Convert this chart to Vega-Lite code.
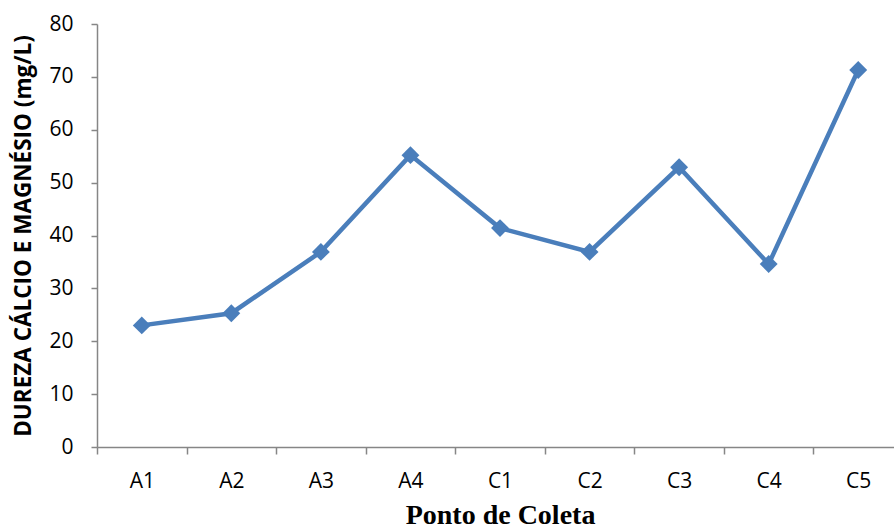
{
  "$schema": "https://vega.github.io/schema/vega-lite/v6.json",
  "autosize": "none",
  "width": 806,
  "height": 423,
  "padding": {"left": 97, "top": 24, "right": 0, "bottom": 85},
  "background": "white",
  "config": {"view": {"stroke": null}},
  "data": {"values": [
    {"ponto": "A1", "valor": 23.0},
    {"ponto": "A2", "valor": 25.3},
    {"ponto": "A3", "valor": 36.9},
    {"ponto": "A4", "valor": 55.2},
    {"ponto": "C1", "valor": 41.4},
    {"ponto": "C2", "valor": 36.9},
    {"ponto": "C3", "valor": 52.9},
    {"ponto": "C4", "valor": 34.6},
    {"ponto": "C5", "valor": 71.3}
  ]},
  "mark": {"type": "line", "color": "#4a7ebb", "strokeWidth": 4.5, "point": {"shape": "diamond", "size": 320, "filled": true, "color": "#4a7ebb", "opacity": 1}},
  "encoding": {
    "x": {"field": "ponto", "type": "nominal", "sort": null,
      "scale": {"type": "band", "paddingInner": 0, "paddingOuter": 0},
      "axis": {"title": "Ponto de Coleta", "titleFont": "Liberation Serif", "titleFontSize": 28, "titleFontWeight": "bold", "titleColor": "#000", "titlePadding": 10,
        "labelAngle": 0, "labelFont": "Open Sans", "labelFontSize": 21, "labelColor": "#000", "labelPadding": 16,
        "tickBand": "extent", "tickSize": 7, "tickColor": "#868686", "domainColor": "#868686", "domainWidth": 1.5, "tickWidth": 1.5, "grid": false}},
    "y": {"field": "valor", "type": "quantitative",
      "scale": {"domain": [0, 80], "nice": false},
      "axis": {"title": "DUREZA CÁLCIO E MAGNÉSIO (mg/L)", "titleFont": "Open Sans", "titleFontSize": 22.5, "titleFontWeight": "bold", "titleColor": "#000", "titlePadding": 13,
        "values": [0, 10, 20, 30, 40, 50, 60, 70, 80], "labelFont": "Open Sans", "labelFontSize": 21, "labelColor": "#000", "labelPadding": 18,
        "tickSize": 6, "tickColor": "#868686", "domainColor": "#868686", "domainWidth": 1.5, "tickWidth": 1.5, "grid": false}}
  }
}
